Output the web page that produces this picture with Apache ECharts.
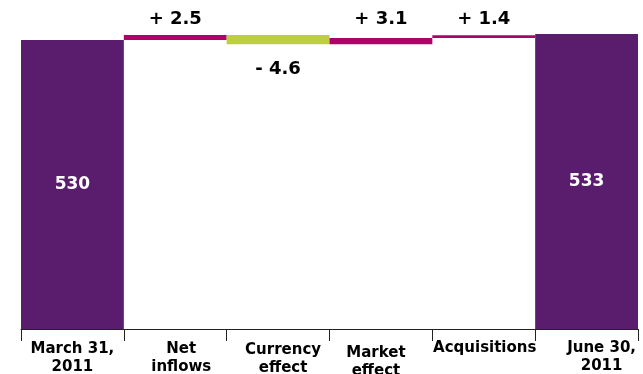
<!DOCTYPE html>
<html>
<head>
<meta charset="utf-8">
<script src="https://cdn.jsdelivr.net/npm/echarts@6/dist/echarts.min.js"></script>
<style>html,body{margin:0;padding:0;background:#fff;}#c{width:643px;height:374px;}</style>
</head>
<body>
<div id="c"></div>
<script>
var categories = ['March 31,\n2011', 'Net\ninflows', 'Currency\neffect', 'Market\neffect', 'Acquisitions', 'June 30,\n2011'];
var startTotal = 530;
var changes = [2.5, -4.6, 3.1, 1.4];
var endTotal = 533;

var PURPLE = '#5a1d6d', MAGENTA = '#b0006a', LIME = '#bdce40';
var FONT = '"DejaVu Sans", Verdana, sans-serif';

var baseData = [0];
var valueData = [{value: startTotal, itemStyle: {color: PURPLE},
  label: {show: true, position: 'inside', color: '#fff', fontSize: 17, formatter: String(startTotal)}}];
var running = startTotal;
var labelDist = [7, 16, 10, 7];
changes.forEach(function (c, i) {
  var txt = (c >= 0 ? '+ ' : '- ') + Math.abs(c).toFixed(1);
  if (c >= 0) {
    baseData.push(running);
    running += c;
    valueData.push({value: c, itemStyle: {color: MAGENTA},
      label: {show: true, position: 'top', distance: labelDist[i], color: '#000', fontSize: 18, formatter: txt}});
  } else {
    running += c;
    baseData.push(running);
    valueData.push({value: -c, itemStyle: {color: LIME},
      label: {show: true, position: 'bottom', distance: labelDist[i], color: '#000', fontSize: 18, formatter: txt}});
  }
});
baseData.push(0);
valueData.push({value: endTotal, itemStyle: {color: PURPLE},
  label: {show: true, position: 'inside', color: '#fff', fontSize: 17, formatter: String(endTotal)}});

// per-category label nudges [top, right, bottom, left]
var catPads = [[1, 0, 0, 0], [1, 0, 0, 12], [2, 0, 0, 10], [5, 10, 0, 0], [0, 0, 0, 2], [0, 0, 0, 30]];
var catData = categories.map(function (c, i) {
  return {value: c, textStyle: {padding: catPads[i]}};
});

var chart = echarts.init(document.getElementById('c'));
chart.setOption({
  animation: false,
  grid: {left: 21, right: 5, top: 0, bottom: 45, containLabel: false, outerBoundsMode: 'none'},
  xAxis: {
    type: 'category',
    data: catData,
    axisLine: {lineStyle: {color: '#222', width: 1}},
    axisTick: {show: true, length: 12, lineStyle: {color: '#222'}},
    axisLabel: {color: '#000', fontFamily: FONT, fontWeight: 'bold', fontSize: 15, lineHeight: 18, margin: 10, interval: 0}
  },
  yAxis: {
    type: 'value', min: 386, max: 550, show: false, splitLine: {show: false}
  },
  series: [
    {type: 'bar', stack: 'w', data: baseData, itemStyle: {color: 'rgba(0,0,0,0)'}, barCategoryGap: 0, silent: true},
    {type: 'bar', stack: 'w', data: valueData, barCategoryGap: 0,
      label: {fontFamily: FONT, fontWeight: 'bold'}}
  ]
});
</script>
</body>
</html>
